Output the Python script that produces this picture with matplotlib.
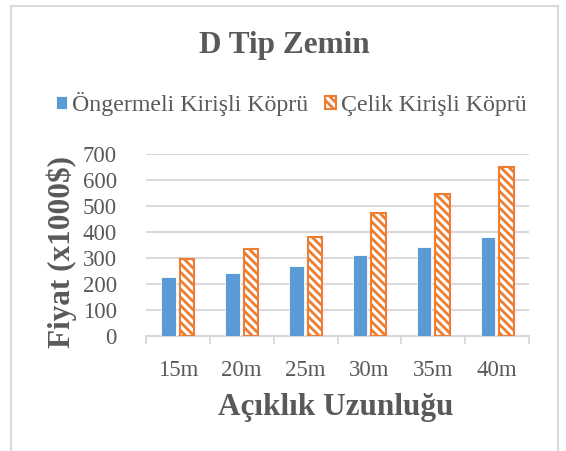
import matplotlib
matplotlib.use('Agg')
import matplotlib.pyplot as plt
import numpy as np
from matplotlib.patches import Rectangle

# veriler
acikliklar = ["15m", "20m", "25m", "30m", "35m", "40m"]
ongermeli = [225, 240, 270, 310, 342, 380]
celik = [295, 335, 382, 472, 544, 648]
seri_adlari = ["Öngermeli Kirişli Köprü", "Çelik Kirişli Köprü"]
y_ticks = [0, 100, 200, 300, 400, 500, 600, 700]

W, H = 566, 451
gri = "#595959"
mavi = "#5b9bd5"
turuncu = "#ed7d31"

plt.rcParams['font.family'] = ['Liberation Serif', 'DejaVu Serif']
plt.rcParams['hatch.linewidth'] = 2.0
plt.rcParams['hatch.color'] = turuncu

fig = plt.figure(figsize=(W / 100, H / 100), dpi=100)
ax = fig.add_axes([146 / W, 1 - 336 / H, (529 - 146) / W, (336 - 153.7) / H])

x = np.arange(len(acikliklar))
ax.bar(x - 0.145, ongermeli, width=0.225, color=mavi, edgecolor="white",
       linewidth=0.6, label=seri_adlari[0], zorder=3)
ax.bar(x + 0.145, celik, width=0.225, color="white", edgecolor=turuncu,
       hatch="\\\\\\\\", linewidth=1.5, label=seri_adlari[1], zorder=3)

ax.set_xlim(-0.5, len(acikliklar) - 0.5)
ax.set_ylim(0, 700)
ax.set_yticks(y_ticks)
ax.set_yticklabels([str(v) for v in y_ticks], fontsize=16.5, color=gri)
ax.tick_params(axis="y", length=0, pad=21)
ax.set_xticks(x)
ax.set_xticklabels(acikliklar, fontsize=16.5, color=gri)
ax.set_xticks(np.arange(-0.5, len(acikliklar)), minor=True)
ax.tick_params(axis="x", which="major", length=0, pad=17)
ax.tick_params(axis="x", which="minor", length=6, width=1.3, color="#d9d9d9")
ax.grid(axis="y", color="#d9d9d9", linewidth=1.5, zorder=0)
for s in ["left", "right", "top"]:
    ax.spines[s].set_visible(False)
ax.spines["bottom"].set_color("#d9d9d9")
ax.spines["bottom"].set_linewidth(1.5)

fig.text(284 / W, 1 - 45 / H, "D Tip Zemin", ha="center", va="center",
         fontsize=22.5, fontweight="bold", color=gri)
fig.text(336 / W, 1 - 407 / H, "Açıklık Uzunluğu", ha="center", va="center",
         fontsize=22.5, fontweight="bold", color=gri)
fig.text(62 / W, 1 - 252 / H, "Fiyat (x1000$)", ha="center", va="center",
         rotation=90, fontsize=22.5, fontweight="bold", color=gri)

leg = fig.legend(loc="center", bbox_to_anchor=(291 / W, 1 - 104 / H), ncol=2,
                 frameon=False, fontsize=17.2, handlelength=0.48, handleheight=0.48,
                 handletextpad=0.2, columnspacing=0.7, borderpad=0)
for t in leg.get_texts():
    t.set_color(gri)

fig.patches.append(Rectangle((11 / W, -0.05), (558 - 11) / W, 1.05 - 6 / H,
                             transform=fig.transFigure, fill=False,
                             edgecolor="#d9d9d9", linewidth=1.5))

fig.savefig("out.png", dpi=100)
